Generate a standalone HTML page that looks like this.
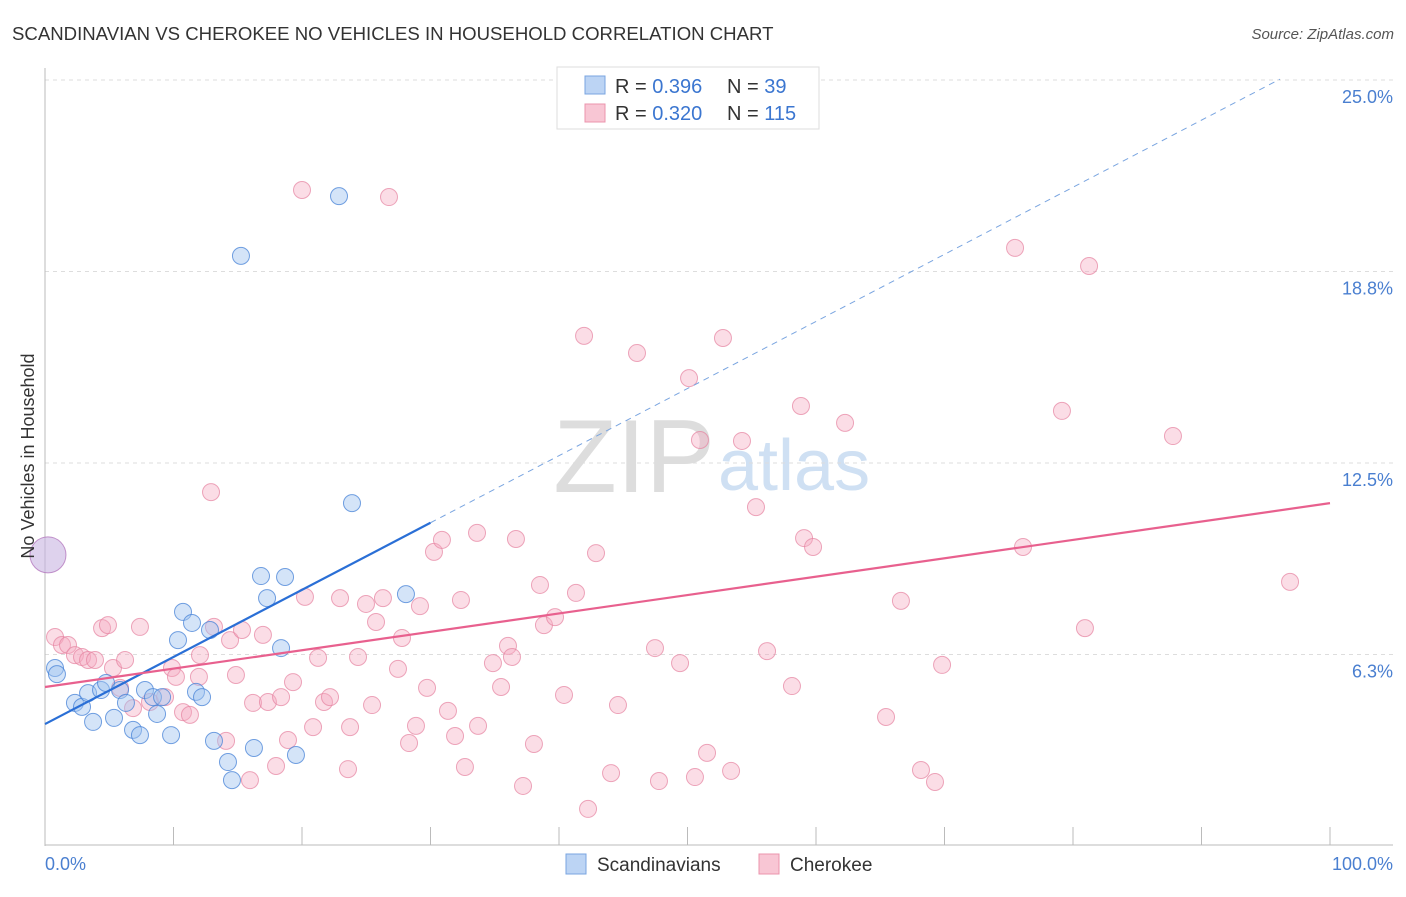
<!DOCTYPE html>
<html><head><meta charset="utf-8">
<style>
body{margin:0;background:#fff;font-family:"Liberation Sans",sans-serif;}
svg text{font-family:"Liberation Sans",sans-serif;}
</style></head>
<body>
<svg id="chart" width="1406" height="892" viewBox="0 0 1406 892">
<text x="12" y="40" font-size="18.6" fill="#333">SCANDINAVIAN VS CHEROKEE NO VEHICLES IN HOUSEHOLD CORRELATION CHART</text>
<text x="1394" y="39" font-size="15" fill="#555" font-style="italic" text-anchor="end">Source: ZipAtlas.com</text>
<text x="715" y="492" font-size="104" fill="#ddd" text-anchor="end" font-family="Liberation Serif">ZIP</text>
<text x="718" y="490" font-size="72" fill="#cfe0f3">atlas</text>
<g id="grid"></g>
<g id="axes"></g>
<g id="marks"></g>
<text transform="translate(34,456) rotate(-90)" font-size="18" fill="#333" text-anchor="middle">No Vehicles in Household</text>
<text x="45" y="870" font-size="18" fill="#4a7fd0">0.0%</text>
<text x="1393" y="870" font-size="18" fill="#4a7fd0" text-anchor="end">100.0%</text>
<g>
<rect x="557" y="67" width="262" height="62" fill="#fff" stroke="#ddd"/>
<rect x="585" y="76" width="20" height="18" fill="#bcd4f4" stroke="#7aa5e0"/>
<rect x="585" y="104" width="20" height="18" fill="#f8c6d4" stroke="#eb94ad"/>
<text x="615" y="93" font-size="20" fill="#333">R = <tspan fill="#3b76d0">0.396</tspan></text>
<text x="727" y="93" font-size="20" fill="#333">N = <tspan fill="#3b76d0"> 39</tspan></text>
<text x="615" y="120" font-size="20" fill="#333">R = <tspan fill="#3b76d0">0.320</tspan></text>
<text x="727" y="120" font-size="20" fill="#333">N = <tspan fill="#3b76d0">115</tspan></text>
</g>
<g>
<rect x="566" y="854" width="20" height="20" fill="#bcd4f4" stroke="#7aa5e0"/>
<text x="597" y="871" font-size="19" fill="#333">Scandinavians</text>
<rect x="759" y="854" width="20" height="20" fill="#f8c6d4" stroke="#eb94ad"/>
<text x="790" y="871" font-size="19" fill="#333">Cherokee</text>
</g>
</svg>
<script>
const yTicks=[6.3,12.5,18.8,25.0];
const yTickVals=[6.25,12.5,18.75,25];
const xTickVals=[0,10,20,30,40,50,60,70,80,90,100];
const blueX=[0.78,0.93,2.33,2.88,3.35,3.74,4.36,5.37,4.75,5.84,6.30,6.85,7.39,7.78,8.40,8.72,9.11,9.81,10.35,10.74,11.44,11.75,12.22,12.84,13.15,14.24,14.55,15.25,16.26,16.81,17.28,18.68,18.37,19.53,22.88,23.89,28.09];
const blueY=[5.81,5.61,4.67,4.54,4.99,4.05,5.09,4.18,5.32,5.09,4.67,3.79,3.62,5.09,4.86,4.31,4.86,3.62,6.72,7.64,7.28,5.03,4.86,7.05,3.43,2.74,2.15,19.26,3.20,8.81,8.09,8.78,6.46,2.97,21.21,11.19,8.22];
const pinkX=[0.78,1.32,1.79,2.33,2.88,3.35,3.89,4.44,4.90,5.29,5.84,6.23,6.85,7.39,8.17,9.34,9.88,10.19,10.74,11.28,12.06,11.98,12.92,13.15,14.09,14.40,14.86,15.33,15.95,16.19,16.96,17.35,17.98,18.37,18.91,19.30,20.00,20.23,21.25,20.86,21.71,22.18,22.96,23.58,23.74,24.36,24.98,25.45,25.76,26.30,26.77,27.47,27.78,28.33,28.87,29.18,29.73,30.27,30.89,31.36,31.91,32.37,32.68,33.62,33.70,34.86,35.49,36.03,36.34,36.65,37.20,38.05,38.52,38.83,39.69,40.39,41.32,41.95,42.26,42.88,44.05,44.59,46.07,47.47,47.78,49.42,50.12,50.58,50.97,51.52,52.76,53.39,54.24,55.33,56.19,58.13,58.83,59.07,59.77,62.26,65.45,66.61,68.17,69.26,69.81,75.49,76.11,79.14,80.93,81.25,87.78,96.89];
const pinkY=[6.82,6.56,6.56,6.23,6.17,6.07,6.07,7.11,7.21,5.81,5.16,6.07,4.50,7.15,4.70,4.86,5.81,5.52,4.37,4.28,6.23,5.52,11.55,7.15,3.43,6.72,5.58,7.05,2.15,4.67,6.89,4.70,2.61,4.86,3.46,5.35,21.41,8.13,6.14,3.88,4.70,4.86,8.09,2.51,3.88,6.17,7.90,4.60,7.31,8.09,21.18,5.78,6.79,3.36,3.92,7.83,5.16,9.60,9.99,4.41,3.59,8.03,2.58,10.22,3.92,5.97,5.19,6.53,6.17,10.02,1.96,3.33,8.52,7.21,7.47,4.93,8.26,16.65,1.21,9.56,2.38,4.60,16.09,6.46,2.12,5.97,15.27,2.25,13.25,3.04,16.58,2.45,13.22,11.06,6.36,5.22,14.36,10.05,9.76,13.81,4.21,8.00,2.48,2.09,5.91,19.52,9.76,14.20,7.11,18.93,13.38,8.62];
const bigPoint=[0.23,9.5];
const blueLine=[3.98,0.219];
const pinkLine=[5.19,0.060];
const NS='http://www.w3.org/2000/svg';
const xs=v=>45+v*12.85;
const ys=v=>846-v*30.64;
function mk(tag,attrs,parent){const e=document.createElementNS(NS,tag);for(const k in attrs)e.setAttribute(k,attrs[k]);parent.appendChild(e);return e;}
const grid=document.getElementById('grid'),axes=document.getElementById('axes'),marks=document.getElementById('marks');
yTickVals.forEach((v,i)=>{
 const l=mk('line',{x1:45,x2:1393,y1:ys(v),y2:ys(v),stroke:'#ddd','stroke-dasharray':'4,4'},grid);
 
 
 const t=mk('text',{x:1393,y:ys(v)+23,'font-size':18,fill:'#4a7fd0','text-anchor':'end'},grid);
 t.textContent=yTicks[i].toFixed(1)+'%';
 
 
});
const ya=mk('line',{x1:45,x2:45,y1:68,y2:846,stroke:'#bbb'},axes);


const xa=mk('line',{x1:45,x2:1393,y1:845,y2:845,stroke:'#bbb'},axes);


xTickVals.forEach(v=>{
 const t=mk('line',{x1:xs(v),x2:xs(v),y1:827,y2:845,stroke:'#bbb'},axes);
 
 
});
pinkX.forEach((x,i)=>{
 const c=mk('circle',{cx:xs(x),cy:ys(pinkY[i]),r:8.5,fill:'rgba(245,170,192,0.4)',stroke:'rgba(230,130,160,0.7)','stroke-width':1},marks);
 
 
});
blueX.forEach((x,i)=>{
 const c=mk('circle',{cx:xs(x),cy:ys(blueY[i]),r:8.5,fill:'rgba(160,195,240,0.45)',stroke:'rgba(70,130,215,0.75)','stroke-width':1},marks);
 
 
});
const bp=mk('circle',{cx:xs(bigPoint[0]),cy:ys(bigPoint[1]),r:18,fill:'rgba(200,180,225,0.6)',stroke:'rgba(180,120,190,0.8)'},marks);


const bl=mk('line',{x1:xs(0),y1:ys(blueLine[0]),x2:xs(30),y2:ys(blueLine[0]+30*blueLine[1]),stroke:'#2a6fd6','stroke-width':2.2},marks);


const bd=mk('line',{x1:xs(30),y1:ys(blueLine[0]+30*blueLine[1]),x2:xs(96.1),y2:ys(blueLine[0]+96.1*blueLine[1]),stroke:'#7aa5e0','stroke-width':1,'stroke-dasharray':'6,5'},marks);


const pl=mk('line',{x1:xs(0),y1:ys(pinkLine[0]),x2:xs(100),y2:ys(pinkLine[0]+100*pinkLine[1]),stroke:'#e8608e','stroke-width':2.2},marks);


</script>
</body></html>
